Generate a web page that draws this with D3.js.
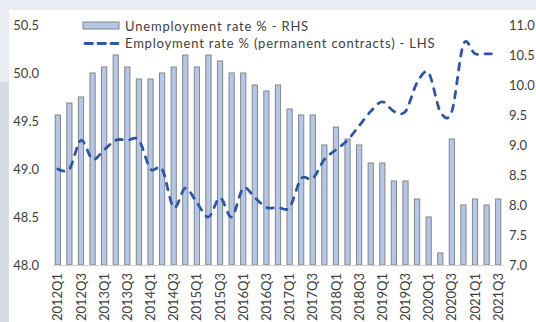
<!DOCTYPE html>
<html>
<head>
<meta charset="utf-8">
<script src="https://cdn.jsdelivr.net/npm/d3@7"></script>
<style>
  html, body { margin: 0; padding: 0; background: #e8ecf3; }
  svg { display: block; font-family: Lato, "Open Sans", sans-serif; }
</style>
</head>
<body>
<svg id="chart" width="536" height="322"></svg>
<script>
// Quarterly labour-market series, 2012Q1 – 2021Q3
const quarters = [
  "2012Q1","2012Q2","2012Q3","2012Q4",
  "2013Q1","2013Q2","2013Q3","2013Q4",
  "2014Q1","2014Q2","2014Q3","2014Q4",
  "2015Q1","2015Q2","2015Q3","2015Q4",
  "2016Q1","2016Q2","2016Q3","2016Q4",
  "2017Q1","2017Q2","2017Q3","2017Q4",
  "2018Q1","2018Q2","2018Q3","2018Q4",
  "2019Q1","2019Q2","2019Q3","2019Q4",
  "2020Q1","2020Q2","2020Q3","2020Q4",
  "2021Q1","2021Q2","2021Q3"
];

// Unemployment rate %, right-hand scale
const unemployment = [
  9.5, 9.7, 9.8, 10.2,
  10.3, 10.5, 10.3, 10.1,
  10.1, 10.2, 10.3, 10.5,
  10.3, 10.5, 10.4, 10.2,
  10.2, 10.0, 9.9, 10.0,
  9.6, 9.5, 9.5, 9.0,
  9.3, 9.1, 9.0, 8.7,
  8.7, 8.4, 8.4, 8.1,
  7.8, 7.2, 9.1, 8.0,
  8.1, 8.0, 8.1
];

// Employment rate % (permanent contracts), left-hand scale
const employment = [
  49.0, 49.0, 49.3, 49.1,
  49.2, 49.3, 49.3, 49.3,
  49.0, 49.0, 48.6, 48.8,
  48.65, 48.5, 48.7, 48.5,
  48.8, 48.7, 48.6, 48.6,
  48.6, 48.9, 48.9, 49.1,
  49.2, 49.3, 49.45, 49.6,
  49.7, 49.6, 49.6, 49.9,
  50.0, 49.6, 49.6, 50.3,
  50.2, 50.2, 50.2
];

const leftTicks = [48.0, 48.5, 49.0, 49.5, 50.0, 50.5];
const rightTicks = [7.0, 7.5, 8.0, 8.5, 9.0, 9.5, 10.0, 10.5, 11.0];
const legendLabels = [
  "Unemployment rate % - RHS",
  "Employment rate % (permanent contracts) - LHS"
];

const svg = d3.select("#chart");
const W = 536, H = 322;

// backdrop: page tint, darker strip on the left edge, white panel
svg.append("rect").attr("x", 0).attr("y", 0).attr("width", W).attr("height", H).attr("fill", "#e8ecf3");
svg.append("rect").attr("x", 0).attr("y", 82).attr("width", 9).attr("height", H - 82).attr("fill", "#d6dce4");
svg.append("rect").attr("x", 9).attr("y", 10).attr("width", W - 9).attr("height", H - 10).attr("fill", "#ffffff");

const plotLeft = 52, plotRight = 504, plotTop = 25, plotBottom = 265;

const x = d3.scaleBand()
  .domain(quarters)
  .range([plotLeft, plotRight])
  .paddingInner(0.55)
  .paddingOuter(0.275);

const yL = d3.scaleLinear().domain([48, 50.5]).range([plotBottom, plotTop]);
const yR = d3.scaleLinear().domain([7, 11]).range([plotBottom, plotTop]);

const textColor = "#404040";
const barFill = "#b4c7e7";
const barStroke = "#858585";
const lineColor = "#2f56a2";

// bars
svg.append("g")
  .selectAll("rect")
  .data(quarters)
  .join("rect")
  .attr("x", d => x(d))
  .attr("width", x.bandwidth())
  .attr("y", (d, i) => yR(unemployment[i]))
  .attr("height", (d, i) => yR(7) - yR(unemployment[i]))
  .attr("fill", barFill)
  .attr("stroke", barStroke)
  .attr("stroke-width", 1);

// category axis line
svg.append("line")
  .attr("x1", plotLeft).attr("x2", plotRight)
  .attr("y1", plotBottom + 0.5).attr("y2", plotBottom + 0.5)
  .attr("stroke", "#d0d0d0").attr("stroke-width", 1);

// smoothed dashed employment line
const line = d3.line()
  .x((d, i) => x(quarters[i]) + x.bandwidth() / 2)
  .y(d => yL(d))
  .curve(d3.curveCatmullRom.alpha(0));

svg.append("path")
  .datum(employment)
  .attr("d", line)
  .attr("fill", "none")
  .attr("stroke", lineColor)
  .attr("stroke-width", 2.8)
  .attr("stroke-linecap", "round")
  .attr("stroke-dasharray", "6.5,7.5");

// left value labels
svg.append("g")
  .selectAll("text")
  .data(leftTicks)
  .join("text")
  .attr("x", 39)
  .attr("y", d => yL(d))
  .attr("dy", "0.35em")
  .attr("text-anchor", "end")
  .attr("fill", textColor)
  .attr("font-size", 13)
  .text(d => d3.format(".1f")(d));

// right value labels
svg.append("g")
  .selectAll("text")
  .data(rightTicks)
  .join("text")
  .attr("x", 509)
  .attr("y", d => yR(d))
  .attr("dy", "0.35em")
  .attr("text-anchor", "start")
  .attr("fill", textColor)
  .attr("font-size", 13)
  .text(d => d3.format(".1f")(d));

// quarter labels, every second one, rotated
svg.append("g")
  .selectAll("text")
  .data(quarters.filter((d, i) => i % 2 === 0))
  .join("text")
  .attr("transform", d => `translate(${x(d) + x.bandwidth() / 2},273) rotate(-90)`)
  .attr("dy", "0.35em")
  .attr("text-anchor", "end")
  .attr("fill", textColor)
  .attr("font-size", 13)
  .text(d => d);

// legend
const legend = svg.append("g");
legend.append("rect")
  .attr("x", 83).attr("y", 22).attr("width", 36).attr("height", 7)
  .attr("fill", barFill).attr("stroke", barStroke).attr("stroke-width", 1);
legend.append("line")
  .attr("x1", 85).attr("x2", 118).attr("y1", 43.5).attr("y2", 43.5)
  .attr("stroke", lineColor).attr("stroke-width", 2.8)
  .attr("stroke-linecap", "round")
  .attr("stroke-dasharray", "7.5,5.5");
legend.selectAll("text")
  .data(legendLabels)
  .join("text")
  .attr("x", 125)
  .attr("y", (d, i) => 26 + i * 17.5)
  .attr("dy", "0.35em")
  .attr("fill", textColor)
  .attr("font-size", 13)
  .attr("letter-spacing", 0.8)
  .text(d => d);
</script>
</body>
</html>
